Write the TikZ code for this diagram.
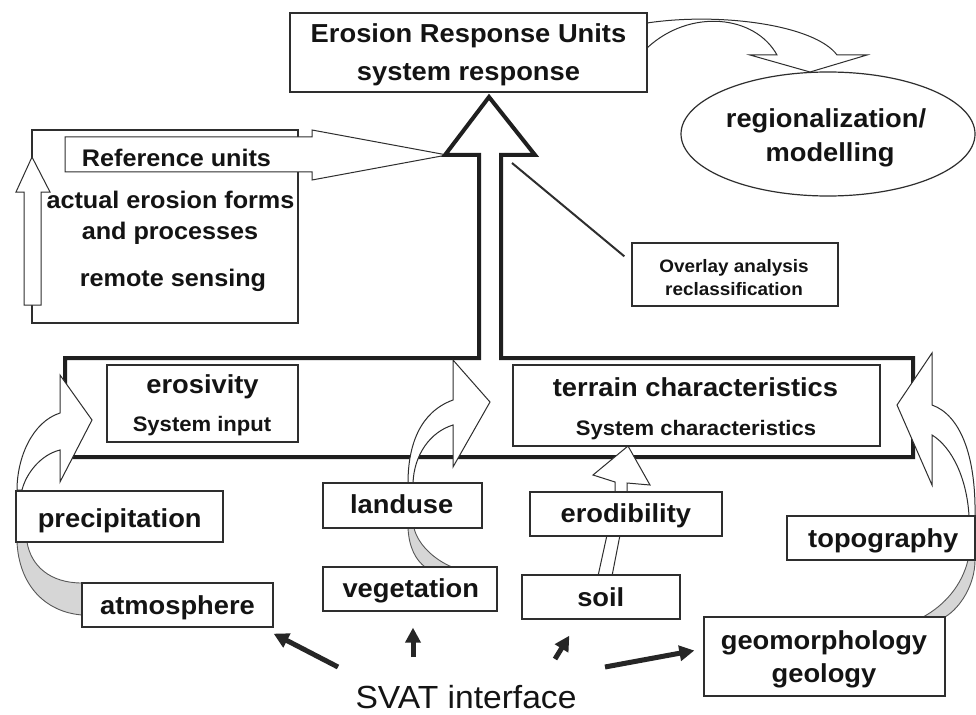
\documentclass[tikz,border=0pt]{standalone}
\usepackage{fontspec}
\setmainfont[FakeStretch=1.05]{Liberation Sans}
\usetikzlibrary{shapes.geometric,arrows.meta}
\definecolor{ln}{gray}{0.18}
\definecolor{cres}{gray}{0.84}
\begin{document}
\begin{tikzpicture}[x=1pt,y=-1pt]
\tikzset{
 box/.style={draw=ln, line width=1.3pt, fill=white, inner sep=0pt},
 hollow/.style={draw=ln, line width=1pt, fill=white, line join=miter},
 crescent/.style={draw=ln!80, line width=0.9pt, fill=cres},
 bigframe/.style={draw=black!88, line width=4pt, line join=miter},
 txt/.style={anchor=base, inner sep=0pt, text=black!92, font=\bfseries\fontsize{26}{30}\selectfont},
 txtm/.style={txt, font=\bfseries\fontsize{24}{28}\selectfont},
 txts/.style={txt, font=\bfseries\fontsize{21}{25}\selectfont},
 txtxs/.style={txt, font=\bfseries\fontsize{18}{22}\selectfont},
 blk/.style={line width=5pt, draw=black!85, -{Triangle[length=15pt,width=15pt]}},
}
\fill[white] (0,0) rectangle (976,714);
\useasboundingbox (0,0) rectangle (976,714);

% left reference box
\node[box, minimum width=266pt, minimum height=193pt] (refbox) at (165,226.5) {};
\draw[hollow] (65,137) -- (312,137) -- (312,130) -- (447,155) -- (312,180) -- (312,172) -- (65,172) -- cycle;
\draw[hollow] (24,305) -- (24,192) -- (16,192) -- (32,157) -- (50,192) -- (41,192) -- (41,305) -- cycle;
\node[txtm] (tref) at (176.5,167) {Reference units};
\node[txtm] (tact) at (170.5,208) {actual erosion forms};
\node[txtm] (tand) at (170,239) {and processes};
\node[txtm] (trem) at (173,286) {remote sensing};

% big frame with upward arrow
\draw[bigframe] (65,358) -- (479,358) -- (479,155) -- (445,155) -- (489,97) -- (535,155) -- (501,155) -- (501,358) -- (913,358) -- (913,457) -- (65,457) -- cycle;

% overlay box and line
\node[box, minimum width=206pt, minimum height=63pt] (ov) at (735,274.5) {};
\node[txtxs] (tov1) at (734,272) {Overlay analysis};
\node[txtxs] (tov2) at (734,295) {reclassification};
\coordinate (ovs) at (512,163);
\draw[draw=ln, line width=2pt] (ovs) -- ([xshift=-7pt,yshift=-14pt]ov.north west);

% top curved arrow to regionalization
\draw[hollow] (647,23) .. controls (720,12) and (815,25) .. (837,55) -- (867,55) -- (810,72) -- (750,55) -- (777,55) .. controls (755,15) and (690,8) .. (647,48) -- cycle;
\node[box, minimum width=357pt, minimum height=79pt] (eru) at (468.5,52.5) {};
\node[txt] (teru1) at (468.5,43) {Erosion Response Units};
\node[txt] (teru2) at (468.5,81) {system response};

\node[draw=ln, line width=1.2pt, ellipse, minimum width=294pt, minimum height=124pt, inner sep=0pt] (reg) at (828,134) {};
\node[txt] (treg1) at (826,128) {regionalization/};
\node[txt] (treg2) at (830,162) {modelling};

% hollow curved arrows into the frame
\draw[hollow] (17,490) .. controls (17,458) and (32,422) .. (60,413) -- (60,375) -- (92,420) -- (60,482) -- (60,450) .. controls (40,455) and (26,474) .. (22,490) -- cycle;
\draw[hollow] (408,483) .. controls (408,445) and (420,412) .. (453,400) -- (453,360) -- (490,402) -- (453,467) -- (453,425) .. controls (430,432) and (414,455) .. (413,483) -- cycle;
\draw[hollow] (975,516) .. controls (976,455) and (960,415) .. (932,405) -- (932,353) -- (897,405) -- (932,485) -- (932,435) .. controls (953,448) and (967,480) .. (969,516) -- cycle;
\draw[hollow] (615,493) -- (615,482) -- (593,475) -- (628,446) -- (650,485) -- (627,483) -- (627,493) -- cycle;
\draw[hollow] (607,535) -- (598,576) -- (612,576) -- (620,535) -- cycle;

% grey crescents
\draw[crescent] (82,615) .. controls (45,612) and (19,585) .. (17,542) -- (27,542) .. controls (31,566) and (50,583) .. (82,583) -- cycle;
\draw[crescent] (408,528) .. controls (409,548) and (416,560) .. (425,567) -- (452,567) .. controls (435,560) and (418,545) .. (414,528) -- cycle;
\draw[crescent] (975,560) .. controls (975,585) and (960,608) .. (945,617) -- (923,617) .. controls (945,605) and (962,585) .. (968,560) -- cycle;

% boxes
\node[box, minimum width=191pt, minimum height=77pt] (ero) at (202.5,403.5) {};
\node[txt] (tero1) at (202.5,393) {erosivity};
\node[txts] (tero2) at (202,431) {System input};

\node[box, minimum width=367pt, minimum height=81pt] (ter) at (696.5,405.5) {};
\node[txt] (tter1) at (695.5,396) {terrain characteristics};
\node[txts] (tter2) at (696,435) {System characteristics};

\node[box, minimum width=207pt, minimum height=51pt] (pre) at (119.5,516.5) {};
\node[txt] (tpre) at (119.7,527) {precipitation};

\node[box, minimum width=191pt, minimum height=44pt] (atm) at (177.5,605) {};
\node[txt] (tatm) at (177.5,614) {atmosphere};

\node[box, minimum width=159pt, minimum height=45pt] (lan) at (402.5,505.5) {};
\node[txt] (tlan) at (401.7,513) {landuse};

\node[box, minimum width=174pt, minimum height=44pt] (veg) at (410,589) {};
\node[txt] (tveg) at (410.8,597) {vegetation};

\node[box, minimum width=192pt, minimum height=44pt] (erd) at (626,514) {};
\node[txt] (terd) at (625.8,522) {erodibility};

\node[box, minimum width=158pt, minimum height=44pt] (soil) at (601,597) {};
\node[txt] (tsoil) at (600.8,606) {soil};

\node[box, minimum width=188pt, minimum height=44pt] (topo) at (881,538) {};
\node[txt] (ttopo) at (883.3,547) {topography};

\node[box, minimum width=241pt, minimum height=79pt] (geo) at (824.5,656.5) {};
\node[txt] (tgeo1) at (824,649) {geomorphology};
\node[txt] (tgeo2) at (824,682) {geology};

% SVAT interface
\node[anchor=base, inner sep=0pt, text=black!92, font=\fontsize{32}{36}\selectfont] (svat) at (466,708) {SVAT interface};
\coordinate (s1) at (338,667);
\coordinate (s2) at (413,657);
\coordinate (s3) at (555,659);
\coordinate (s4) at (605,667);
\draw[blk] (s1) -- ([yshift=-6pt]atm.south east);
\draw[blk] (s2) -- ([xshift=3pt,yshift=-16pt]veg.south);
\draw[blk] (s3) -- ([xshift=48pt,yshift=-16pt]soil.south west);
\draw[blk] (s4) -- ([xshift=-9pt,yshift=6pt]geo.west);
\end{tikzpicture}
\end{document}
